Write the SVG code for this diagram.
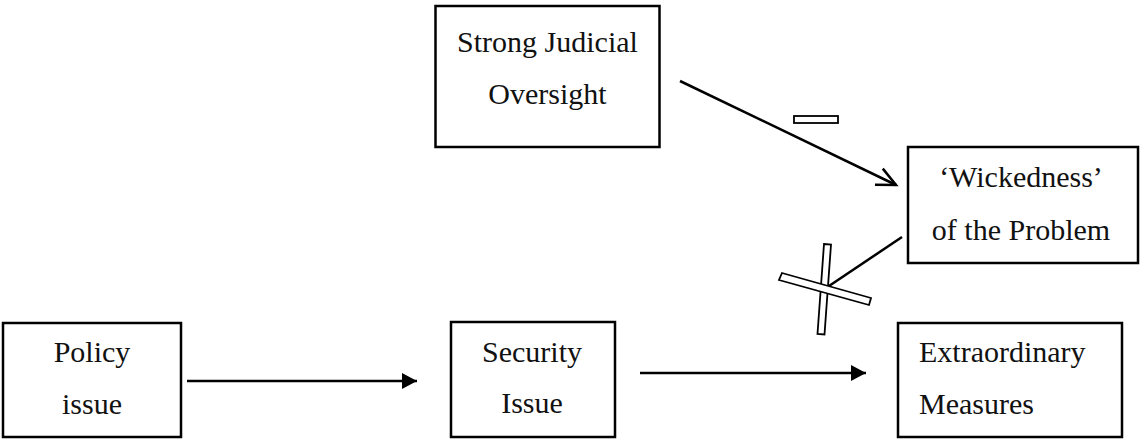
<svg xmlns="http://www.w3.org/2000/svg" width="1140" height="439" viewBox="0 0 1140 439">
<defs>
<style>
.box{fill:#fff;stroke:#000;stroke-width:2.5}
.t{font-family:"Liberation Serif","Times New Roman",serif;font-size:30px;fill:#111}
.c{text-anchor:middle}
.ln{stroke:#000;stroke-width:2.5;fill:none}
.bar{fill:#fff;stroke:#000;stroke-width:1.8}
</style>
<marker id="fill" markerWidth="16" markerHeight="16" refX="15" refY="8" orient="auto" markerUnits="userSpaceOnUse">
<path d="M0,0 L15,8 L0,16 Z" fill="#000"/>
</marker>
<marker id="open" markerWidth="24" markerHeight="24" refX="20" refY="12" orient="auto" markerUnits="userSpaceOnUse">
<path d="M1,3 L20,12 L1,21" fill="none" stroke="#000" stroke-width="2.5"/>
</marker>
</defs>
<rect width="1140" height="439" fill="#fff"/>
<g id="n-oversight">
<rect class="box" x="435.5" y="6" width="224" height="141"/>
<text class="t c" x="547.5" y="52">Strong Judicial</text>
<text class="t c" x="547.5" y="104">Oversight</text>
</g>
<g id="n-wickedness">
<rect class="box" x="908" y="147" width="230" height="116"/>
<text class="t c" x="1021" y="187">‘Wickedness’</text>
<text class="t c" x="1021" y="240">of the Problem</text>
</g>
<g id="n-policy">
<rect class="box" x="3" y="323" width="178" height="114"/>
<text class="t c" x="92" y="362">Policy</text>
<text class="t c" x="92" y="414">issue</text>
</g>
<g id="n-security">
<rect class="box" x="451" y="322" width="164" height="115"/>
<text class="t c" x="532" y="362">Security</text>
<text class="t c" x="532" y="413">Issue</text>
</g>
<g id="n-extraordinary">
<rect class="box" x="898" y="323" width="224" height="114"/>
<text class="t" x="919" y="362">Extraordinary</text>
<text class="t" x="919" y="414">Measures</text>
</g>
<g id="connectors">
<line class="ln" x1="187" y1="381" x2="417" y2="381" marker-end="url(#fill)"/>
<line class="ln" x1="640" y1="373" x2="866" y2="373" marker-end="url(#fill)"/>
<line class="ln" x1="680" y1="81" x2="896" y2="185" marker-end="url(#open)"/>
<rect class="bar" x="794" y="116" width="44" height="7"/>
<polygon class="bar" points="824,244 831,244.5 824.5,334.5 817.5,334"/>
<polygon class="bar" points="782,273 871,298 869,305 779,280"/>
<line class="ln" x1="902" y1="237" x2="829" y2="286"/>
</g>
</svg>
